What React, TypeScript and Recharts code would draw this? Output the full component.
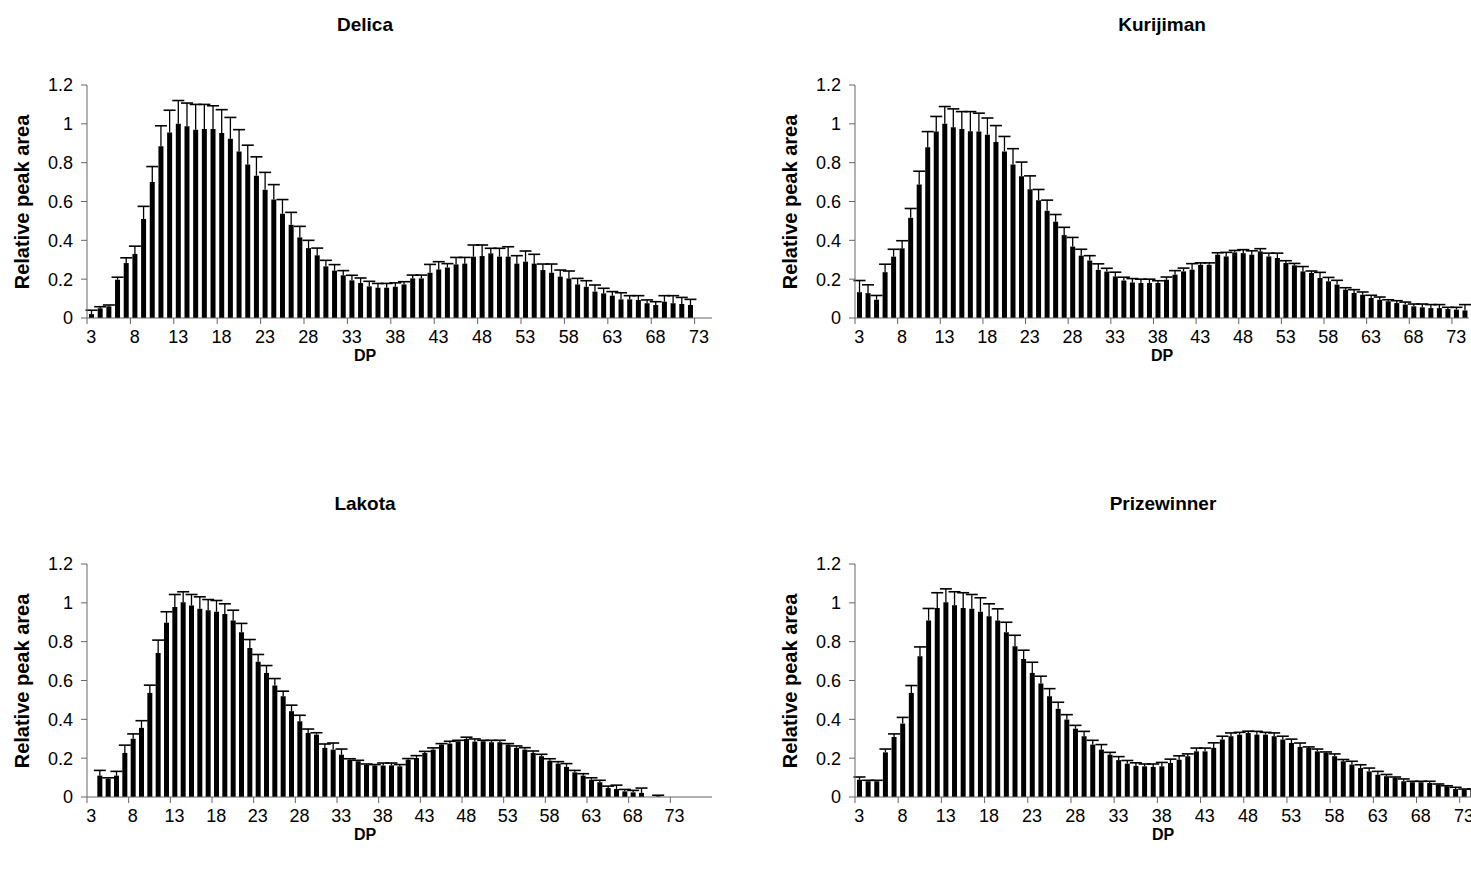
import React from 'react';
import { BarChart, Bar, XAxis, YAxis } from 'recharts';

// DP categories (first DP on each axis)
const AXIS_START = 3;
const Y_TICKS = [0, 0.2, 0.4, 0.6, 0.8, 1, 1.2];

// Delica: DP 3..72 plotted on an axis of 3..74
const delicaValues = [
  0.02, 0.05, 0.06, 0.197, 0.283, 0.33, 0.51, 0.7, 0.884, 0.956,
  1.0, 0.987, 0.97, 0.973, 0.973, 0.953, 0.923, 0.858, 0.79, 0.733,
  0.66, 0.61, 0.537, 0.48, 0.415, 0.36, 0.323, 0.266, 0.244, 0.22,
  0.194, 0.18, 0.163, 0.156, 0.156, 0.161, 0.173, 0.204, 0.204, 0.233,
  0.25, 0.26, 0.276, 0.28, 0.316, 0.319, 0.333, 0.316, 0.316, 0.28,
  0.29, 0.28, 0.247, 0.233, 0.213, 0.204, 0.173, 0.161, 0.136, 0.127,
  0.115, 0.096, 0.096, 0.093, 0.076, 0.067, 0.084, 0.076, 0.072, 0.067,
];
const delicaErrors = [
  0.02, 0.008, 0.007, 0.013, 0.027, 0.04, 0.065, 0.08, 0.106, 0.114,
  0.12, 0.12, 0.13, 0.127, 0.12, 0.12, 0.11, 0.112, 0.1, 0.097,
  0.09, 0.077, 0.073, 0.064, 0.057, 0.04, 0.037, 0.031, 0.031, 0.024,
  0.026, 0.026, 0.026, 0.022, 0.022, 0.02, 0.014, 0.017, 0.017, 0.043,
  0.04, 0.02, 0.036, 0.032, 0.06, 0.057, 0.026, 0.043, 0.051, 0.041,
  0.055, 0.048, 0.031, 0.045, 0.034, 0.038, 0.031, 0.031, 0.034, 0.026,
  0.021, 0.034, 0.019, 0.022, 0.017, 0.017, 0.031, 0.039, 0.034, 0.029,
];

// Kurijiman: DP 3..74
const kurijimanValues = [
  0.133, 0.128, 0.094, 0.236, 0.316, 0.359, 0.516, 0.687, 0.88, 0.96,
  1.0, 0.983, 0.974, 0.962, 0.96, 0.944, 0.906, 0.858, 0.791, 0.73,
  0.663, 0.607, 0.552, 0.496, 0.427, 0.368, 0.321, 0.296, 0.248, 0.239,
  0.214, 0.193, 0.183, 0.18, 0.18, 0.18, 0.197, 0.223, 0.24, 0.249,
  0.274, 0.274, 0.326, 0.317, 0.338, 0.334, 0.326, 0.343, 0.317, 0.309,
  0.283, 0.271, 0.24, 0.232, 0.206, 0.189, 0.172, 0.146, 0.129, 0.12,
  0.103, 0.094, 0.086, 0.077, 0.069, 0.06, 0.055, 0.051, 0.051, 0.046,
  0.043, 0.039,
];
const kurijimanErrors = [
  0.06, 0.043, 0.022, 0.041, 0.038, 0.039, 0.048, 0.069, 0.08, 0.078,
  0.089, 0.094, 0.089, 0.101, 0.095, 0.086, 0.085, 0.077, 0.081, 0.073,
  0.069, 0.055, 0.055, 0.037, 0.04, 0.047, 0.033, 0.025, 0.031, 0.017,
  0.022, 0.017, 0.02, 0.02, 0.02, 0.012, 0.014, 0.021, 0.017, 0.031,
  0.01, 0.01, 0.01, 0.021, 0.01, 0.018, 0.02, 0.014, 0.017, 0.025,
  0.012, 0.01, 0.025, 0.01, 0.029, 0.02, 0.022, 0.01, 0.017, 0.014,
  0.014, 0.014, 0.008, 0.012, 0.013, 0.012, 0.017, 0.018, 0.018, 0.009,
  0.012, 0.03,
];

// Lakota: axis DP 3..77, nothing at DP 3 and after DP 71
const lakotaValues = [
  null, 0.11, 0.094, 0.11, 0.227, 0.3, 0.356, 0.536, 0.742, 0.897,
  0.978, 1.003, 0.986, 0.969, 0.962, 0.954, 0.943, 0.909, 0.849, 0.768,
  0.696, 0.639, 0.574, 0.519, 0.442, 0.39, 0.33, 0.321, 0.253, 0.244,
  0.218, 0.192, 0.184, 0.165, 0.162, 0.162, 0.163, 0.158, 0.192, 0.201,
  0.227, 0.244, 0.27, 0.275, 0.287, 0.299, 0.285, 0.287, 0.282, 0.282,
  0.27, 0.253, 0.244, 0.227, 0.21, 0.187, 0.172, 0.155, 0.127, 0.11,
  0.089, 0.076, 0.046, 0.041, 0.029, 0.024, 0.021, null, 0.003, null,
  null, null, null, null, null,
];
const lakotaErrors = [
  null, 0.027, 0.005, 0.022, 0.04, 0.025, 0.037, 0.04, 0.066, 0.057,
  0.065, 0.054, 0.057, 0.062, 0.055, 0.058, 0.052, 0.053, 0.045, 0.043,
  0.038, 0.038, 0.036, 0.026, 0.031, 0.031, 0.02, 0.01, 0.02, 0.034,
  0.029, 0.005, 0.005, 0.005, 0.005, 0.013, 0.012, 0.009, 0.006, 0.012,
  0.008, 0.009, 0.005, 0.012, 0.005, 0.009, 0.014, 0.005, 0.01, 0.01,
  0.005, 0.01, 0.01, 0.01, 0.01, 0.01, 0.01, 0.017, 0.01, 0.01,
  0.01, 0.01, 0.01, 0.02, 0.01, 0.01, 0.025, null, 0.006, null,
  null, null, null, null, null,
];

// Prizewinner: DP 3..74
const prizewinnerValues = [
  0.089, 0.081, 0.081, 0.23, 0.309, 0.378, 0.536, 0.725, 0.909, 0.974,
  1.003, 0.988, 0.974, 0.969, 0.954, 0.931, 0.909, 0.849, 0.777, 0.711,
  0.639, 0.584, 0.519, 0.454, 0.399, 0.352, 0.313, 0.27, 0.244, 0.218,
  0.19, 0.172, 0.16, 0.158, 0.155, 0.158, 0.175, 0.192, 0.21, 0.235,
  0.235, 0.253, 0.296, 0.313, 0.321, 0.33, 0.321, 0.321, 0.313, 0.296,
  0.278, 0.258, 0.253, 0.235, 0.227, 0.21, 0.184, 0.167, 0.149, 0.132,
  0.115, 0.107, 0.098, 0.081, 0.076, 0.076, 0.072, 0.064, 0.055, 0.041,
  0.038, 0.038,
];
const prizewinnerErrors = [
  0.014, 0.005, 0.005, 0.017, 0.016, 0.032, 0.038, 0.048, 0.062, 0.078,
  0.069, 0.069, 0.078, 0.074, 0.072, 0.064, 0.06, 0.051, 0.056, 0.045,
  0.055, 0.038, 0.039, 0.034, 0.025, 0.017, 0.025, 0.022, 0.026, 0.012,
  0.018, 0.016, 0.016, 0.012, 0.015, 0.02, 0.02, 0.02, 0.012, 0.017,
  0.017, 0.026, 0.017, 0.017, 0.012, 0.009, 0.017, 0.012, 0.017, 0.017,
  0.02, 0.02, 0.005, 0.012, 0.005, 0.012, 0.009, 0.017, 0.017, 0.017,
  0.017, 0.009, 0.005, 0.012, 0.005, 0.005, 0.009, 0.003, 0.003, 0.009,
  0.003, 0.003,
];

const FONT = "'Liberation Sans', Arial, Helvetica, sans-serif";
const AXIS_COLOR = '#666';

function buildRows(count: number, values: (number | null)[], errors: (number | null)[]) {
  const rows = [];
  for (let i = 0; i < count; i++) {
    const v = i < values.length ? values[i] : null;
    const e = i < errors.length ? errors[i] : null;
    rows.push({ dp: String(AXIS_START + i), value: v, err: v == null ? null : e });
  }
  return rows;
}

// plus-direction error bar drawn on top of the value bar (stacked segment)
function Whisker(props: any) {
  const { x, y, width, height, payload } = props;
  if (payload == null || payload.err == null) return <g />;
  const cx = x + width / 2;
  return (
    <g>
      <line x1={cx} y1={y + height} x2={cx} y2={y} stroke="#000" strokeWidth={1.3} />
      <line x1={cx - 6} y1={y} x2={cx + 6} y2={y} stroke="#000" strokeWidth={1.6} />
    </g>
  );
}

interface PanelProps {
  title: string;
  left: number;
  top: number;
  plotWidth: number;
  plotHeight: number;
  labelX: number;
  count: number;
  values: (number | null)[];
  errors: (number | null)[];
}

function Panel({ title, left, top, plotWidth, plotHeight, labelX, count, values, errors }: PanelProps) {
  const rows = buildRows(count, values, errors);
  const band = plotWidth / count;
  const yAxisW = 70;
  const marginTop = 10;
  const xAxisH = 40;

  const renderTick = (p: any) => {
    const { x, y, payload } = p;
    return (
      <g>
        <line x1={x - band / 2} y1={y} x2={x - band / 2} y2={y + 6} stroke={AXIS_COLOR} />
        <text x={x} y={y + 25} textAnchor="middle" fontSize={18} fill="#000">
          {payload.value}
        </text>
      </g>
    );
  };

  return (
    <>
      <div style={{ position: 'absolute', left: labelX - 150, top: top - 71, width: 300, textAlign: 'center', fontSize: 19, fontWeight: 'bold' }}>
        {title}
      </div>
      <div
        style={{
          position: 'absolute',
          left: left - 65 - 110,
          top: top + plotHeight / 2 - 12,
          width: 220,
          height: 24,
          lineHeight: '24px',
          textAlign: 'center',
          fontSize: 20,
          fontWeight: 'bold',
          transform: 'rotate(-90deg)',
        }}
      >
        Relative peak area
      </div>
      <div style={{ position: 'absolute', left: labelX - 50, top: top + plotHeight + 29, width: 100, textAlign: 'center', fontSize: 16, fontWeight: 'bold' }}>
        DP
      </div>
      <div style={{ position: 'absolute', left: left - yAxisW, top: top - marginTop }}>
        <BarChart
          width={yAxisW + plotWidth + 10}
          height={marginTop + plotHeight + xAxisH}
          data={rows}
          margin={{ top: marginTop, right: 10, bottom: 0, left: 0 }}
        >
          <XAxis
            dataKey="dp"
            interval={4}
            height={xAxisH}
            tickSize={0}
            tickMargin={0}
            tickLine={false}
            axisLine={{ stroke: AXIS_COLOR }}
            tick={renderTick}
          />
          <YAxis
            width={yAxisW}
            domain={[0, 1.2]}
            ticks={Y_TICKS}
            interval={0}
            tickSize={6}
            tickMargin={8}
            axisLine={{ stroke: AXIS_COLOR }}
            tickLine={{ stroke: AXIS_COLOR }}
            tick={{ fill: '#000', fontSize: 18 }}
          />
          <Bar dataKey="value" stackId="s" fill="#000" barSize={5} isAnimationActive={false} />
          <Bar dataKey="err" stackId="s" fill="none" barSize={5} shape={Whisker} isAnimationActive={false} />
        </BarChart>
      </div>
    </>
  );
}

export default function App() {
  return (
    <div
      style={{
        position: 'absolute',
        left: 0,
        top: 0,
        width: 1471,
        height: 870,
        overflow: 'hidden',
        background: '#fff',
        fontFamily: FONT,
        color: '#000',
      }}
    >
      <Panel title="Delica" left={87} top={85} plotWidth={625} plotHeight={233} labelX={365} count={72} values={delicaValues} errors={delicaErrors} />
      <Panel title="Kurijiman" left={855} top={85} plotWidth={614} plotHeight={233} labelX={1162} count={72} values={kurijimanValues} errors={kurijimanErrors} />
      <Panel title="Lakota" left={87} top={564} plotWidth={625} plotHeight={233} labelX={365} count={75} values={lakotaValues} errors={lakotaErrors} />
      <Panel title="Prizewinner" left={855} top={564} plotWidth={622} plotHeight={233} labelX={1163} count={72} values={prizewinnerValues} errors={prizewinnerErrors} />
    </div>
  );
}
